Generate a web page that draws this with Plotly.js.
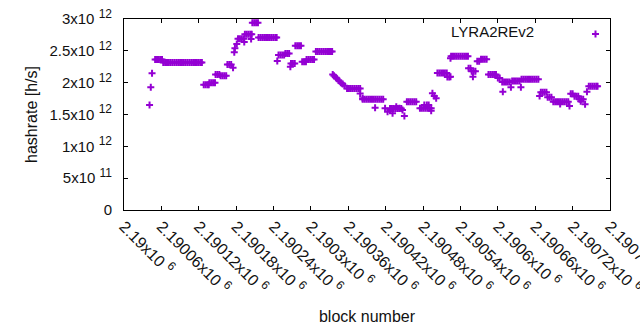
<!DOCTYPE html>
<html>
<head>
<meta charset="utf-8">
<script src="https://cdn.plot.ly/plotly-3.0.1.min.js"></script>
<style>
  html, body { margin: 0; padding: 0; background: #fff; }
  #chart { width: 640px; height: 330px; }
</style>
</head>
<body>
<div id="chart"></div>
<script>
// block numbers
const blocks = [
  2190041, 2190043, 2190045,
  2190050, 2190053, 2190056, 2190059, 2190061,
  2190063, 2190066, 2190069, 2190072, 2190075, 2190078, 2190081, 2190084, 2190087, 2190090, 2190093,
  2190096, 2190099, 2190102, 2190105, 2190108, 2190111, 2190114, 2190117, 2190120, 2190123, 2190125,
  2190128, 2190131, 2190134, 2190136,
  2190137, 2190140, 2190143, 2190146,
  2190147, 2190150, 2190153, 2190155, 2190158, 2190161, 2190164,
  2190166, 2190169, 2190172, 2190175,
  2190177, 2190178, 2190181,
  2190183, 2190186, 2190189, 2190192, 2190193,
  2190194, 2190197, 2190200, 2190203, 2190205, 2190204,
  2190206, 2190209, 2190212, 2190215,
  2190216, 2190219, 2190222, 2190225, 2190228, 2190231, 2190234, 2190237, 2190240, 2190243, 2190245,
  2190246,
  2190248, 2190251, 2190254, 2190257, 2190259, 2190262, 2190265,
  2190267, 2190268, 2190271, 2190274,
  2190275, 2190278, 2190281, 2190284,
  2190286, 2190289, 2190292, 2190293, 2190296, 2190299, 2190302, 2190305,
  2190308, 2190311, 2190314, 2190317, 2190320, 2190323, 2190326, 2190329, 2190332, 2190334,
  2190335, 2190337, 2190340, 2190342, 2190345, 2190348, 2190351, 2190354,
  2190358, 2190361, 2190364, 2190367, 2190370, 2190373, 2190376, 2190379,
  2190379, 2190383,
  2190383, 2190386, 2190389, 2190392, 2190395, 2190398, 2190401, 2190404,
  2190407, 2190410, 2190413, 2190416,
  2190403,
  2190419, 2190423, 2190427, 2190431, 2190437, 2190442, 2190447, 2190450,
  2190427, 2190430, 2190433, 2190436, 2190439, 2190442, 2190445,
  2190454, 2190457, 2190460, 2190463, 2190466, 2190469,
  2190475, 2190478, 2190481, 2190484, 2190487, 2190490, 2190493,
  2190482, 2190486, 2190489, 2190493,
  2190495, 2190498, 2190501,
  2190503, 2190506, 2190509, 2190512, 2190515, 2190518, 2190519, 2190522, 2190524,
  2190524, 2190525, 2190528, 2190531, 2190534, 2190537, 2190540, 2190543, 2190546, 2190549, 2190552,
  2190553, 2190556, 2190558, 2190561, 2190564, 2190560,
  2190567, 2190570, 2190573, 2190576, 2190579, 2190582,
  2190585, 2190588, 2190591, 2190594, 2190597, 2190600, 2190603,
  2190608,
  2190607, 2190610, 2190613, 2190616, 2190619, 2190621,
  2190623, 2190626, 2190629, 2190632, 2190635, 2190637,
  2190638, 2190641, 2190644, 2190647, 2190650, 2190653, 2190656, 2190659, 2190662, 2190665,
  2190667, 2190669, 2190672, 2190675, 2190678,
  2190680, 2190683, 2190686,
  2190689, 2190692, 2190695, 2190698, 2190701, 2190704, 2190707, 2190710, 2190713, 2190700, 2190715,
  2190717, 2190720, 2190723, 2190726, 2190729,
  2190731, 2190734, 2190737, 2190733, 2190740,
  2190743,
  2190746, 2190749, 2190752, 2190755, 2190758, 2190760
];

// estimated hashrate [h/s] for each block above
const hashrate = [
  1.649e12, 1.927e12, 2.147e12,
  2.364e12, 2.364e12, 2.364e12, 2.364e12, 2.364e12,
  2.317e12, 2.317e12, 2.317e12, 2.317e12, 2.317e12, 2.317e12, 2.317e12, 2.317e12, 2.317e12, 2.317e12, 2.317e12,
  2.317e12, 2.317e12, 2.317e12, 2.317e12, 2.317e12, 2.317e12, 2.317e12, 2.317e12, 2.317e12, 2.317e12, 2.317e12,
  1.968e12, 1.968e12, 1.968e12, 1.968e12,
  2.0e12, 2.0e12, 2.0e12, 2.0e12,
  2.13e12, 2.13e12, 2.13e12, 2.11e12, 2.11e12, 2.11e12, 2.11e12,
  2.285e12, 2.285e12, 2.285e12, 2.235e12,
  2.477e12, 2.54e12, 2.607e12,
  2.69e12, 2.69e12, 2.69e12, 2.69e12, 2.64e12,
  2.759e12, 2.759e12, 2.759e12, 2.759e12, 2.759e12, 2.686e12,
  2.94e12, 2.94e12, 2.94e12, 2.94e12,
  2.71e12, 2.71e12, 2.71e12, 2.71e12, 2.71e12, 2.71e12, 2.71e12, 2.71e12, 2.71e12, 2.71e12, 2.71e12,
  2.34e12,
  2.435e12, 2.435e12, 2.435e12, 2.435e12, 2.46e12, 2.46e12, 2.46e12,
  2.25e12, 2.30e12, 2.30e12, 2.30e12,
  2.58e12, 2.58e12, 2.58e12, 2.58e12,
  2.33e12, 2.33e12, 2.33e12, 2.365e12, 2.365e12, 2.365e12, 2.365e12, 2.365e12,
  2.49e12, 2.49e12, 2.49e12, 2.49e12, 2.49e12, 2.49e12, 2.49e12, 2.49e12, 2.49e12, 2.49e12,
  2.13e12, 2.11e12, 2.08e12, 2.06e12, 2.03e12, 2.00e12, 1.98e12, 1.95e12,
  1.91e12, 1.91e12, 1.91e12, 1.91e12, 1.91e12, 1.91e12, 1.91e12, 1.91e12,
  1.83e12, 1.755e12,
  1.739e12, 1.739e12, 1.739e12, 1.739e12, 1.739e12, 1.739e12, 1.739e12, 1.739e12,
  1.739e12, 1.739e12, 1.739e12, 1.739e12,
  1.607e12,
  1.597e12, 1.544e12, 1.571e12, 1.519e12, 1.623e12, 1.597e12, 1.571e12, 1.476e12,
  1.594e12, 1.594e12, 1.594e12, 1.594e12, 1.594e12, 1.594e12, 1.594e12,
  1.70e12, 1.70e12, 1.70e12, 1.70e12, 1.70e12, 1.70e12,
  1.60e12, 1.60e12, 1.60e12, 1.60e12, 1.60e12, 1.60e12, 1.60e12,
  1.65e12, 1.65e12, 1.65e12, 1.56e12,
  1.833e12, 1.79e12, 1.754e12,
  2.152e12, 2.152e12, 2.152e12, 2.152e12, 2.152e12, 2.152e12, 2.09e12, 2.09e12, 2.094e12,
  2.383e12, 2.414e12, 2.414e12, 2.414e12, 2.414e12, 2.414e12, 2.414e12, 2.414e12, 2.414e12, 2.414e12, 2.414e12,
  2.226e12, 2.226e12, 2.18e12, 2.18e12, 2.18e12, 2.094e12,
  2.337e12, 2.337e12, 2.366e12, 2.366e12, 2.366e12, 2.366e12,
  2.13e12, 2.13e12, 2.13e12, 2.13e12, 2.13e12, 2.073e12, 2.073e12,
  1.858e12,
  2.01e12, 2.01e12, 2.01e12, 2.01e12, 2.01e12, 1.927e12,
  2.026e12, 2.026e12, 2.026e12, 2.026e12, 2.026e12, 1.927e12,
  2.053e12, 2.053e12, 2.053e12, 2.053e12, 2.053e12, 2.053e12, 2.053e12, 2.053e12, 2.053e12, 2.053e12,
  1.79e12, 1.85e12, 1.85e12, 1.85e12, 1.85e12,
  1.77e12, 1.77e12, 1.77e12,
  1.70e12, 1.70e12, 1.70e12, 1.70e12, 1.70e12, 1.70e12, 1.70e12, 1.70e12, 1.70e12, 1.665e12, 1.634e12,
  1.827e12, 1.827e12, 1.786e12, 1.786e12, 1.786e12,
  1.739e12, 1.739e12, 1.739e12, 1.71e12, 1.66e12,
  1.858e12,
  1.943e12, 1.943e12, 1.943e12, 1.943e12, 1.943e12, 1.943e12
];

const seriesName = 'LYRA2REv2';

const sup = (s, px) => ' <sup><span style="font-size:' + px + 'px">' + s + '</span></sup>';

const xTickVals = [2190000, 2190060, 2190120, 2190180, 2190240, 2190300, 2190360,
                   2190420, 2190480, 2190540, 2190600, 2190660, 2190720, 2190780];
const xTickMant = ['2.19', '2.19006', '2.19012', '2.19018', '2.19024', '2.1903', '2.19036',
                   '2.19042', '2.19048', '2.19054', '2.1906', '2.19066', '2.19072', '2.19078'];
const xTickExp = '6';
const yTickVals = [0, 0.5e12, 1e12, 1.5e12, 2e12, 2.5e12, 3e12];
const yTickMant = ['0', '5', '1', '1.5', '2', '2.5', '3'];
const yTickExp = ['', '11', '12', '12', '12', '12', '12'];

const xTickText = xTickMant.map(m => m + 'x10' + sup(xTickExp, 12));
const yTickText = yTickMant.map((m, i) => yTickExp[i] ? m + 'x10' + sup(yTickExp[i], 12) : m);

const purple = '#9400d3';
const font = 'Liberation Sans, Arial, sans-serif';
const txt = '#111';

const trace = {
  x: blocks,
  y: hashrate,
  type: 'scatter',
  mode: 'markers',
  name: ' ',
  marker: {
    symbol: 'cross-thin-open',
    size: 5,
    color: purple,
    line: { color: purple, width: 2 }
  },
  cliponaxis: false,
  hoverinfo: 'x+y'
};

const axisCommon = {
  showgrid: false,
  zeroline: false,
  showline: true,
  linecolor: '#000',
  linewidth: 1,
  mirror: 'ticks',
  ticks: 'inside',
  ticklen: 4,
  tickcolor: '#000',
  tickwidth: 1,
  tickmode: 'array',
  ticklabeloverflow: 'allow'
};

const layout = {
  width: 640,
  height: 330,
  margin: { l: 124, r: 30, t: 19, b: 120, pad: 0 },
  paper_bgcolor: '#fff',
  plot_bgcolor: '#fff',
  font: { family: font, size: 15, color: txt },
  showlegend: true,
  legend: {
    x: 1.031, xanchor: 'right', y: 1.006, yanchor: 'top',
    bgcolor: 'rgba(0,0,0,0)',
    font: { family: font, size: 15, color: txt },
    title: { text: seriesName + '\u00a0\u00a0\u00a0\u00a0\u00a0\u00a0\u00a0\u00a0', side: 'left',
             font: { family: font, size: 15, color: txt } },
    itemwidth: 30
  },
  xaxis: Object.assign({}, axisCommon, {
    range: [2190000, 2190780],
    tickvals: xTickVals,
    ticktext: xTickText,
    tickangle: 45,
    tickfont: { family: font, size: 16, color: txt },
    title: { text: 'block number', font: { family: font, size: 16, color: txt }, standoff: 14 }
  }),
  yaxis: Object.assign({}, axisCommon, {
    range: [0, 3e12],
    tickvals: yTickVals,
    ticktext: yTickText,
    ticklabelstandoff: 8,
    tickfont: { family: font, size: 15, color: txt },
    title: { text: 'hashrate [h/s]', font: { family: font, size: 16, color: txt }, standoff: 7 }
  })
};

Plotly.newPlot('chart', [trace], layout, { displayModeBar: false, staticPlot: true });
</script>
</body>
</html>
